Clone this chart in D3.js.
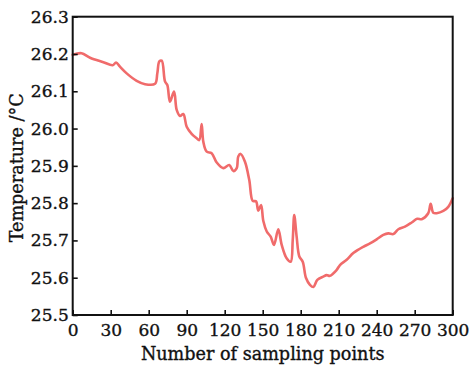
<!DOCTYPE html>
<html>
<head>
<meta charset="utf-8">
<script src="https://cdn.jsdelivr.net/npm/d3@7"></script>
<style>
  body { margin: 0; background: #fff; }
  svg text { font-family: "DejaVu Serif", serif; fill: #111; stroke: #111; stroke-width: 0.35px; }
</style>
</head>
<body>
<svg id="chart" width="472" height="371"></svg>
<script>
// sampling point index and temperature readings
const samplePoints = [0, 7, 13.7, 24.2, 31.6, 34.2, 37.3, 42.6, 50.5, 57.1, 65, 66.8, 68.4, 70.3, 72.9, 74.7, 76.8, 80, 82.1,
  84.7, 87.3, 90, 93.9, 97.9, 99.9, 101.8, 103.1, 105.8, 109.7, 113.7, 118.9, 123.6, 126.8, 129.5, 130.7, 132.6, 136,
  139.4, 142.1, 144.7, 146.5, 148.7, 150.5, 153.2, 156.3, 158.9, 162.3, 165, 168.9, 172.1, 173.7, 174.9, 176.8, 178.9,
  181.6, 184.2, 187.3, 190, 193.1, 197.8, 200.5, 203.1, 208.4, 211, 216.3, 221.5, 229.4, 234.7, 240, 245.2, 249.2, 253.1,
  257.1, 262.3, 267.6, 272, 275.5, 280.7, 282.6, 284.7, 287.4, 292.6, 296.5, 300];
const temperature = [26.198, 26.202, 26.19, 26.178, 26.17, 26.177, 26.166, 26.148, 26.128, 26.119, 26.12, 26.148, 26.18, 26.182, 26.126, 26.117, 26.072, 26.099, 26.05,
  26.034, 26.039, 26.005, 25.986, 25.974, 25.969, 26.012, 25.965, 25.938, 25.934, 25.909, 25.894, 25.902, 25.886, 25.894, 25.925, 25.932, 25.911,
  25.862, 25.806, 25.805, 25.78, 25.795, 25.752, 25.724, 25.71, 25.688, 25.73, 25.688, 25.652, 25.643, 25.701, 25.768, 25.71, 25.657,
  25.643, 25.599, 25.581, 25.575, 25.594, 25.603, 25.607, 25.605, 25.621, 25.634, 25.648, 25.666, 25.683, 25.692, 25.703, 25.715, 25.719, 25.717,
  25.73, 25.737, 25.748, 25.758, 25.757, 25.773, 25.798, 25.774, 25.773, 25.779, 25.79, 25.813];
const xTicks = [0, 30, 60, 90, 120, 150, 180, 210, 240, 270, 300];
const yTicks = [25.5, 25.6, 25.7, 25.8, 25.9, 26.0, 26.1, 26.2, 26.3];

const margin = { top: 16.7, right: 19.3, bottom: 56, left: 72.7 };
const width = 472 - margin.left - margin.right;
const height = 371 - margin.top - margin.bottom;

const svg = d3.select("#chart");
const g = svg.append("g").attr("transform", `translate(${margin.left},${margin.top})`);

const x = d3.scaleLinear().domain([0, 300]).range([0, width]);
const y = d3.scaleLinear().domain([25.5, 26.3]).range([height, 0]);

// line
const data = samplePoints.map((p, i) => ({ p: p, t: temperature[i] }));
g.append("path")
    .datum(data)
    .attr("fill", "none")
    .attr("stroke", "#f06b6b")
    .attr("stroke-width", 2.6)
    .attr("stroke-linejoin", "round")
    .attr("stroke-linecap", "round")
    .attr("d", d3.line().x(d => x(d.p)).y(d => y(d.t)).curve(d3.curveCatmullRom));

// axes with inward ticks
const xAxis = g.append("g")
    .attr("transform", `translate(0,${height})`)
    .call(d3.axisBottom(x).tickValues(xTicks).tickSize(-5).tickPadding(9).tickFormat(d3.format("d")));
const yAxis = g.append("g")
    .call(d3.axisLeft(y).tickValues(yTicks).tickSize(-5).tickPadding(4).tickFormat(d3.format(".1f")));

[xAxis, yAxis].forEach(a => {
    a.select(".domain").remove();
    a.selectAll(".tick line").attr("stroke", "#111").attr("stroke-width", 1.6);
    a.selectAll(".tick text").style("font-size", "17px").attr("fill", "#111");
});

// frame
g.append("rect")
    .attr("width", width)
    .attr("height", height)
    .attr("fill", "none")
    .attr("stroke", "#111")
    .attr("stroke-width", 2);

// axis titles
svg.append("text")
    .attr("x", margin.left + width / 2)
    .attr("y", 360)
    .attr("text-anchor", "middle")
    .style("font-size", "17.6px")
    .text("Number of sampling points");

svg.append("text")
    .attr("transform", `translate(23,${margin.top + height / 2 + 2}) rotate(-90)`)
    .attr("text-anchor", "middle")
    .style("font-size", "17.6px")
    .text("Temperature /°C");
</script>
</body>
</html>
